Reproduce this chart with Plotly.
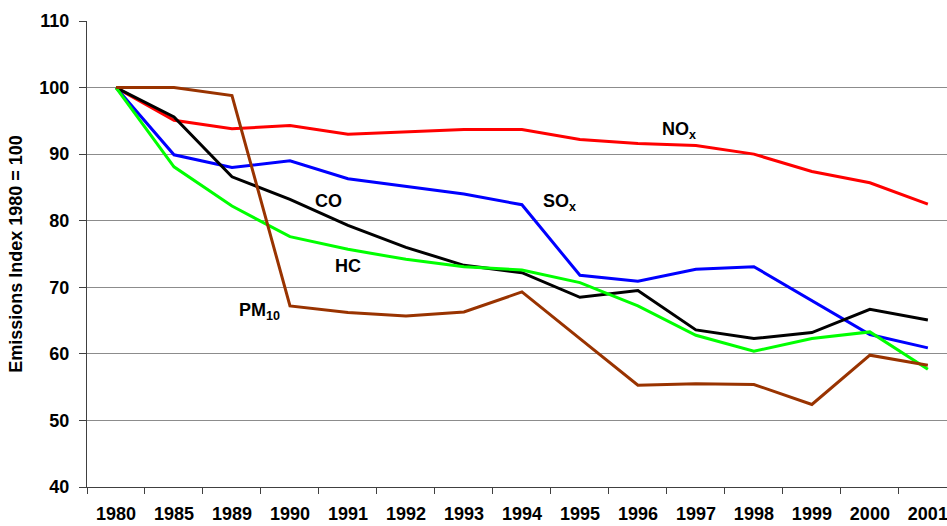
import plotly.graph_objects as go

years = ["1980", "1985", "1989", "1990", "1991", "1992", "1993", "1994",
         "1995", "1996", "1997", "1998", "1999", "2000", "2001"]

nox = [100, 95.1, 93.8, 94.3, 93.0, 93.3, 93.7, 93.7, 92.2, 91.6, 91.3, 90.0, 87.4, 85.7, 82.5]
sox = [100, 89.9, 88.0, 89.0, 86.3, 85.2, 84.0, 82.4, 71.8, 70.9, 72.7, 73.1, 68.0, 62.9, 60.9]
co = [100, 95.6, 86.6, 83.2, 79.3, 76.0, 73.3, 72.2, 68.5, 69.5, 63.6, 62.3, 63.2, 66.7, 65.1]
hc = [100, 88.1, 82.2, 77.6, 75.7, 74.2, 73.1, 72.6, 70.7, 67.2, 62.8, 60.4, 62.3, 63.3, 57.7]
pm10 = [100, 100, 98.8, 67.2, 66.2, 65.7, 66.3, 69.3, 62.3, 55.3, 55.5, 55.4, 52.4, 59.8, 58.3]

series = [
    ("NOx", nox, "#FF0000"),
    ("SOx", sox, "#0000FF"),
    ("CO", co, "#000000"),
    ("HC", hc, "#00FF00"),
    ("PM10", pm10, "#993300"),
]

fig = go.Figure()
for name, vals, col in series:
    fig.add_trace(go.Scatter(x=years, y=vals, mode="lines", name=name,
                             line=dict(color=col, width=3)))

font_family = "Liberation Sans, Arial, sans-serif"
labels = [
    ("<b>NO<sub>x</sub></b>", 9.71, 93.6),
    ("<b>SO<sub>x</sub></b>", 7.64, 82.7),
    ("<b>CO</b>", 3.67, 83.0),
    ("<b>HC</b>", 4.0, 73.2),
    ("<b>PM<sub>10</sub></b>", 2.47, 66.4),
]
for txt, xv, yv in labels:
    fig.add_annotation(x=xv, y=yv, text=txt, showarrow=False,
                       font=dict(family=font_family, size=18, color="black"))

fig.update_layout(
    width=947, height=526,
    margin=dict(l=87, r=0, t=21, b=39),
    paper_bgcolor="white", plot_bgcolor="white",
    showlegend=False,
    font=dict(family=font_family, color="black"),
)
fig.update_xaxes(
    type="category", range=[-0.5, 14.33], tickson="boundaries",
    ticks="outside", ticklen=6, tickcolor="#404040", tickwidth=1,
    showgrid=False, showline=True, linecolor="#404040", linewidth=1,
    automargin=False, ticklabelstandoff=10,
    tickfont=dict(family=font_family, size=18, color="black", weight="bold"),
)
fig.update_yaxes(
    range=[40, 110], dtick=10, tick0=40,
    ticks="outside", ticklen=7, tickcolor="#404040", tickwidth=1,
    showgrid=True, gridcolor="#8C8C8C", gridwidth=1,
    showline=True, linecolor="#404040", linewidth=1, zeroline=False,
    automargin=False, ticklabelstandoff=6,
    tickfont=dict(family=font_family, size=18, color="black", weight="bold"),
    title=dict(text="<b>Emissions Index 1980 = 100</b>", standoff=12,
               font=dict(family=font_family, size=18, color="black")),
)

fig.write_html("out.html", config={"displayModeBar": False},
               post_script="document.body.style.margin='0';")
